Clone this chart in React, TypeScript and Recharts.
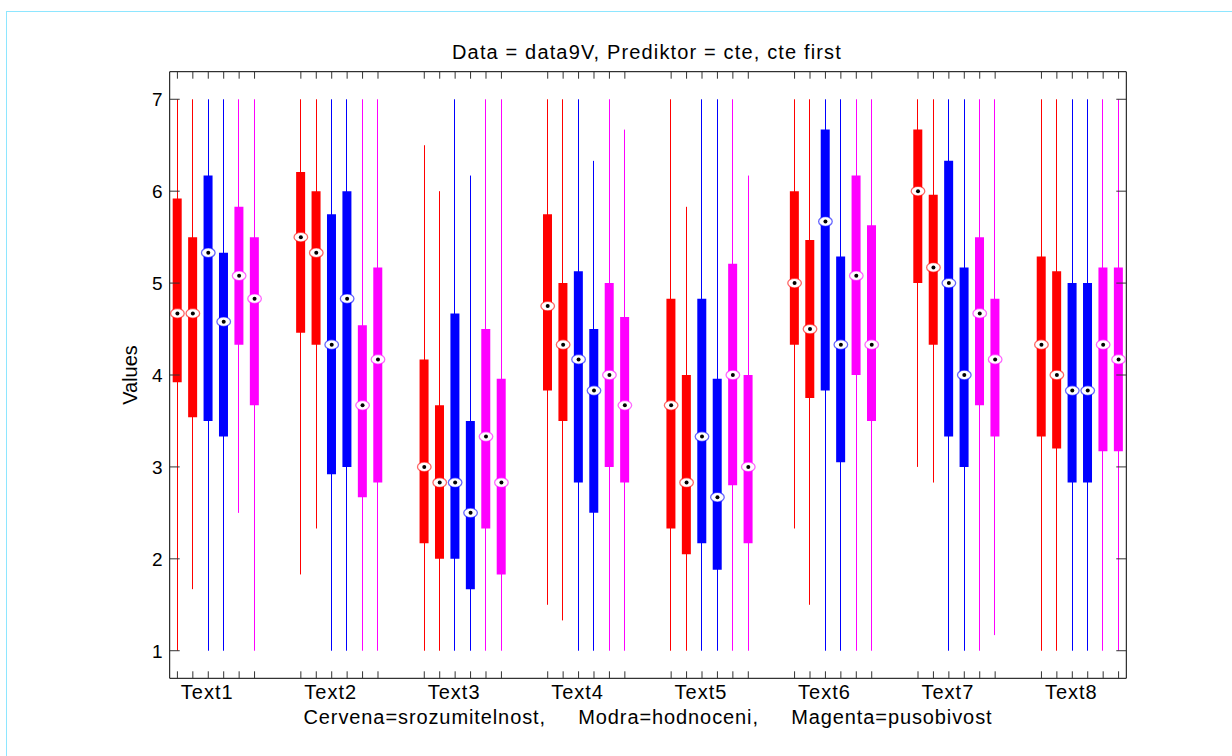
import { ComposedChart, Bar, Line, XAxis, YAxis, Cell } from 'recharts'

const groups = ['Text1', 'Text2', 'Text3', 'Text4', 'Text5', 'Text6', 'Text7', 'Text8']

// each row: [whisker low, q1, median, q3, whisker high], one per group
const srozumitelnost1 = [
  [1, 3.92, 4.67, 5.92, 7],
  [1.83, 4.46, 5.5, 6.21, 7],
  [1, 2.17, 3, 4.17, 6.5],
  [1.5, 3.83, 4.75, 5.75, 7],
  [1, 2.33, 3.67, 4.83, 7],
  [2.33, 4.33, 5, 6, 7],
  [3, 5, 6, 6.67, 7],
  [1, 3.33, 4.33, 5.29, 7],
]
const srozumitelnost2 = [
  [1.67, 3.54, 4.67, 5.5, 7],
  [2.33, 4.33, 5.33, 6, 7],
  [1, 2, 2.83, 3.67, 6],
  [1.33, 3.5, 4.33, 5, 7],
  [1, 2.05, 2.83, 4, 5.83],
  [1.5, 3.75, 4.5, 5.47, 7],
  [2.83, 4.33, 5.17, 5.96, 7],
  [1, 3.2, 4, 5.13, 7],
]
const hodnoceni1 = [
  [1, 3.5, 5.33, 6.17, 7],
  [1, 2.92, 4.33, 5.75, 7],
  [1, 2, 2.83, 4.67, 7],
  [1, 2.83, 4.17, 5.13, 7],
  [1, 2.17, 3.33, 4.83, 7],
  [1, 3.83, 5.67, 6.67, 7],
  [1, 3.33, 5, 6.33, 7],
  [1, 2.83, 3.83, 5, 7],
]
const hodnoceni2 = [
  [1, 3.33, 4.58, 5.33, 7],
  [1, 3, 4.83, 6, 7],
  [1, 1.67, 2.5, 3.5, 6.17],
  [1, 2.5, 3.83, 4.5, 6.33],
  [1, 1.88, 2.67, 3.96, 7],
  [1, 3.05, 4.33, 5.29, 7],
  [1, 3, 4, 5.17, 7],
  [1, 2.83, 3.83, 5, 7],
]
const pusobivost1 = [
  [2.5, 4.33, 5.08, 5.83, 7],
  [1, 2.67, 3.67, 4.54, 7],
  [1, 2.33, 3.33, 4.5, 7],
  [1, 3, 4, 5, 7],
  [1, 2.8, 4, 5.21, 7],
  [1, 4, 5.08, 6.17, 7],
  [1, 3.67, 4.67, 5.5, 7],
  [1, 3.17, 4.33, 5.17, 7],
]
const pusobivost2 = [
  [1, 3.67, 4.83, 5.5, 7],
  [1, 2.83, 4.17, 5.17, 7],
  [1, 1.83, 2.83, 3.96, 7],
  [1, 2.83, 3.67, 4.63, 6.67],
  [1, 2.17, 3, 4, 6.17],
  [1, 3.5, 4.33, 5.63, 7],
  [1.17, 3.33, 4.17, 4.83, 7],
  [1, 3.17, 4.17, 5.17, 7],
]
const yTicks = [1, 2, 3, 4, 5, 6, 7]

const seriesList = [srozumitelnost1, srozumitelnost2, hodnoceni1, hodnoceni2, pusobivost1, pusobivost2]
const colors = ['#ff0000', '#ff0000', '#0000ff', '#0000ff', '#ff00ff', '#ff00ff']

const FONT = '"Liberation Sans", Arial, sans-serif'
const SLOTS = 8 // 6 boxes + 2 empty slots per group

type Row = {
  slot: string
  group: number
  j: number
  color?: string
  whisker?: [number, number]
  box?: [number, number]
  median?: number
}

const rows: Row[] = []
groups.forEach((_, g) => {
  const last = g === groups.length - 1 ? seriesList.length : SLOTS
  for (let j = 0; j < last; j++) {
    const row: Row = { slot: `${g}-${j}`, group: g, j }
    if (j < seriesList.length) {
      const [lo, q1, med, q3, hi] = seriesList[j][g]
      row.color = colors[j]
      row.whisker = [lo, hi]
      row.box = [q1, q3]
      row.median = med
    }
    rows.push(row)
  }
})
const rowBySlot = new Map(rows.map((r) => [r.slot, r]))

const tickColor = '#333'

function BottomTick(props: any) {
  const { x, y, payload } = props
  const row = rowBySlot.get(payload.value)
  if (!row || !row.color) return <g />
  return (
    <g>
      <line x1={x} y1={y} x2={x} y2={y - 7} stroke={tickColor} />
      {row.j === 2 && (
        <text
          x={x - 1}
          y={y + 21}
          textAnchor="middle"
          fontSize={20}
          letterSpacing={1}
          fontFamily={FONT}
          fill="#000"
        >
          {groups[row.group]}
        </text>
      )}
    </g>
  )
}

function TopTick(props: any) {
  const { x, y, payload } = props
  const row = rowBySlot.get(payload.value)
  if (!row || !row.color) return <g />
  return <line x1={x} y1={y} x2={x} y2={y + 7} stroke={tickColor} />
}

function LeftTick(props: any) {
  const { x, y, payload } = props
  return (
    <g>
      <line x1={x} y1={y} x2={x + 10} y2={y} stroke={tickColor} />
      <text x={x - 7} y={y} dy="0.36em" textAnchor="end" fontSize={19} fontFamily={FONT} fill="#000">
        {payload.value}
      </text>
    </g>
  )
}

function RightTick(props: any) {
  const { x, y } = props
  return <line x1={x} y1={y} x2={x - 10} y2={y} stroke={tickColor} />
}

// thin whisker: snap the 1px range bar to a whole pixel column
function WhiskerShape(props: any) {
  const { x, y, width, height, fill } = props
  if (height == null || !fill || fill === 'none') return <g />
  const cx = Math.floor(x + width / 2)
  return <rect x={cx} y={y} width={1} height={height} fill={fill} />
}

function MedianDot(props: any) {
  const { cx, cy, payload, index } = props
  if (cy == null || cx == null || payload?.median == null) return <g key={`m${index}`} />
  return (
    <g key={`m${index}`}>
      <ellipse cx={cx} cy={cy} rx={6.8} ry={4.8} fill="#fff" stroke={payload.color} strokeWidth={1.3} strokeOpacity={0.6} />
      <circle cx={cx} cy={cy} r={2} fill="#000" />
    </g>
  )
}

export default function App() {
  return (
    <div style={{ position: 'absolute', left: 0, top: 0, width: 1232, height: 756, overflow: 'hidden', background: '#fff' }}>
      <div
        style={{
          position: 'absolute',
          left: 6,
          top: 11,
          width: 1300,
          height: 800,
          borderTop: '1px solid #8ee6ff',
          borderLeft: '1px solid #8ee6ff',
        }}
      />
      <ComposedChart
        width={1232}
        height={756}
        data={rows}
        margin={{ top: 61.7, right: 95.7, bottom: 47.7, left: 109.7 }}
        style={{ position: 'absolute', left: 0, top: 0 }}
      >
        <XAxis
          xAxisId="b"
          dataKey="slot"
          type="category"
          height={30}
          interval={0}
          tickSize={0}
          tickMargin={0}
          tickLine={false}
          axisLine={{ stroke: '#000' }}
          tick={(p: any) => <BottomTick {...p} />}
        />
        <XAxis
          xAxisId="top"
          dataKey="slot"
          type="category"
          orientation="top"
          height={10}
          interval={0}
          tickSize={0}
          tickMargin={0}
          tickLine={false}
          axisLine={{ stroke: '#000' }}
          tick={(p: any) => <TopTick {...p} />}
        />
        <XAxis xAxisId="w" dataKey="slot" type="category" hide />
        <YAxis
          type="number"
          domain={[0.7, 7.3]}
          ticks={yTicks}
          allowDataOverflow
          width={60}
          tickSize={0}
          tickMargin={0}
          tickLine={false}
          axisLine={{ stroke: '#000' }}
          tick={(p: any) => <LeftTick {...p} />}
        />
        <YAxis
          yAxisId="right"
          orientation="right"
          type="number"
          domain={[0.7, 7.3]}
          ticks={yTicks}
          allowDataOverflow
          width={10}
          tickSize={0}
          tickMargin={0}
          tickLine={false}
          axisLine={{ stroke: '#000' }}
          tick={(p: any) => <RightTick {...p} />}
        />
        <Bar xAxisId="w" dataKey="whisker" barSize={1} shape={(p: any) => <WhiskerShape {...p} />} isAnimationActive={false}>
          {rows.map((r) => (
            <Cell key={r.slot} fill={r.color ?? 'none'} />
          ))}
        </Bar>
        <Bar xAxisId="b" dataKey="box" barSize={9} isAnimationActive={false}>
          {rows.map((r) => (
            <Cell key={r.slot} fill={r.color ?? 'none'} />
          ))}
        </Bar>
        <Line
          xAxisId="b"
          dataKey="median"
          stroke="none"
          dot={(p: any) => <MedianDot {...p} />}
          activeDot={false}
          isAnimationActive={false}
        />
      </ComposedChart>
      <svg width={1232} height={756} style={{ position: 'absolute', left: 0, top: 0, pointerEvents: 'none' }}>
        <text x={647} y={59} textAnchor="middle" fontSize={20} letterSpacing={1.15} fontFamily={FONT} fill="#000">
          Data = data9V, Prediktor = cte, cte first
        </text>
        <text
          x={648}
          y={724}
          textAnchor="middle"
          fontSize={20}
          letterSpacing={0.9}
          fontFamily={FONT}
          fill="#000"
          style={{ whiteSpace: 'pre' }}
        >
          {'Cervena=srozumitelnost,     Modra=hodnoceni,     Magenta=pusobivost'}
        </text>
        <text
          x={0}
          y={0}
          transform="translate(137 375) rotate(-90)"
          textAnchor="middle"
          fontSize={20}
          fontFamily={FONT}
          fill="#000"
        >
          Values
        </text>
      </svg>
    </div>
  )
}
